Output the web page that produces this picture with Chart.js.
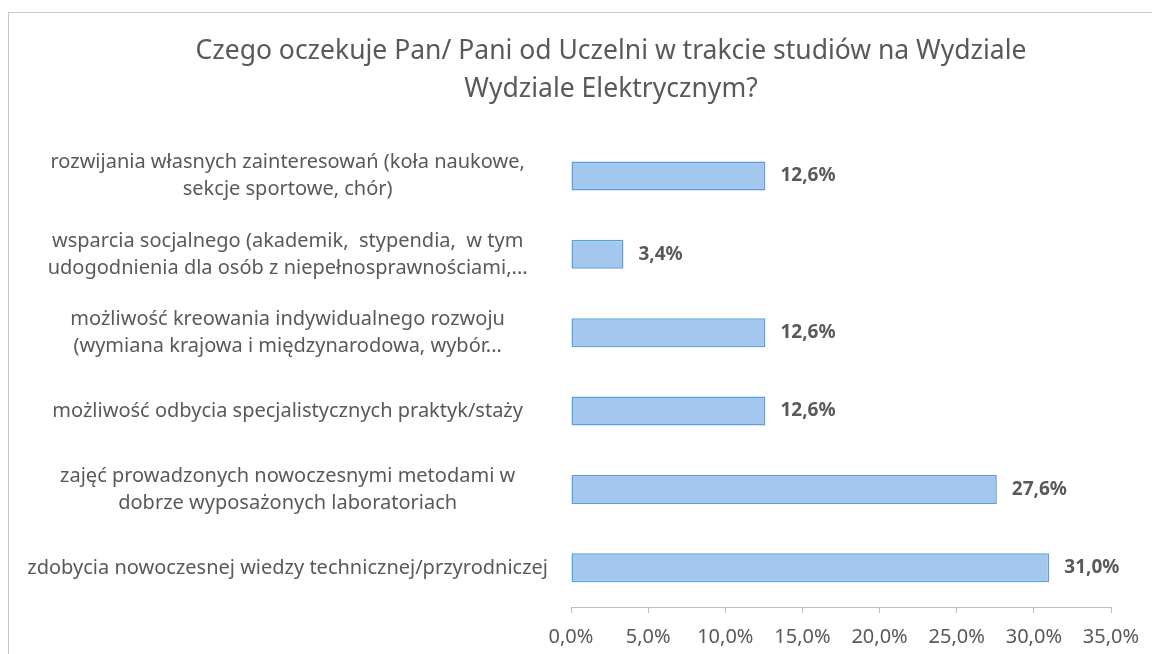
<!DOCTYPE html>
<html>
<head>
<meta charset="utf-8">
<script src="https://cdn.jsdelivr.net/npm/chart.js@4/dist/chart.umd.min.js"></script>
<style>
  html, body { margin: 0; padding: 0; background: #fff; overflow: hidden; }
  body { width: 1152px; height: 654px; position: relative; }
  #frame { position: absolute; left: 8px; top: 12px; width: 1200px; height: 700px;
           border-top: 1px solid #c9c9c9; border-left: 1px solid #c9c9c9; }
  #wrap { position: absolute; left: 0; top: 0; width: 1152px; height: 654px; }
</style>
</head>
<body>
<div id="frame"></div>
<div id="wrap"><canvas id="chart"></canvas></div>
<script>
const titleLines = [
  "Czego oczekuje Pan/ Pani od Uczelni w trakcie studiów na Wydziale",
  "Wydziale Elektrycznym?"
];

const categories = [
  ["rozwijania własnych zainteresowań (koła naukowe,", "sekcje sportowe, chór)"],
  ["wsparcia socjalnego (akademik,  stypendia,  w tym", "udogodnienia dla osób z niepełnosprawnościami,..."],
  ["możliwość kreowania indywidualnego rozwoju", "(wymiana krajowa i międzynarodowa, wybór..."],
  "możliwość odbycia specjalistycznych praktyk/staży",
  ["zajęć prowadzonych nowoczesnymi metodami w", "dobrze wyposażonych laboratoriach"],
  "zdobycia nowoczesnej wiedzy technicznej/przyrodniczej"
];

const percentValues = [12.6, 3.4, 12.6, 12.6, 27.6, 31.0];

const axisMin = 0;
const axisMax = 35;
const axisStep = 5;

const textColor = "#595959";
const fontFamily = "'Noto Sans', 'Open Sans', sans-serif";

function formatPct(v) {
  return Number(v).toFixed(1).replace(".", ",") + "%";
}

// value labels at the end of each bar
const valueLabels = {
  id: "valueLabels",
  afterDatasetsDraw(chart) {
    const ctx = chart.ctx;
    const meta = chart.getDatasetMeta(0);
    ctx.save();
    ctx.font = "bold 19px " + fontFamily;
    ctx.fillStyle = textColor;
    ctx.textAlign = "left";
    ctx.textBaseline = "middle";
    meta.data.forEach((bar, i) => {
      ctx.fillText(formatPct(percentValues[i]), bar.x + 15, bar.y);
    });
    ctx.restore();
  }
};

// the title in the original sits a bit right of the page centre
const titleShift = {
  id: "titleShift",
  afterLayout(chart) {
    const t = chart.titleBlock;
    if (t) {
      t.left = 111;
      t.width = t.right - t.left;
    }
  }
};

const ctx = document.getElementById("chart").getContext("2d");

new Chart(ctx, {
  type: "bar",
  data: {
    labels: categories,
    datasets: [{
      data: percentValues,
      backgroundColor: "#a3c7ee",
      borderColor: "#5b9fdc",
      borderWidth: 1.5,
      borderSkipped: false,
      categoryPercentage: 1,
      barPercentage: 0.37
    }]
  },
  options: {
    indexAxis: "y",
    responsive: true,
    maintainAspectRatio: false,
    animation: false,
    layout: {
      padding: { top: 33, right: 41, bottom: -7, left: 0 }
    },
    plugins: {
      legend: { display: false },
      tooltip: { enabled: false },
      title: {
        display: true,
        text: titleLines,
        color: textColor,
        font: { family: fontFamily, size: 26.5, weight: "normal", lineHeight: 1.43 },
        padding: { top: 0, bottom: 28 }
      }
    },
    scales: {
      x: {
        min: axisMin,
        max: axisMax,
        grid: {
          drawOnChartArea: false,
          drawTicks: true,
          tickLength: 6,
          color: "#bdbdbd"
        },
        border: { display: true, color: "#bdbdbd" },
        afterFit(scale) {
          scale.paddingLeft = 0;
          scale.paddingRight = 0;
        },
        ticks: {
          stepSize: axisStep,
          color: textColor,
          padding: 12,
          font: { family: fontFamily, size: 20, lineHeight: 1.2 },
          callback: v => formatPct(v)
        }
      },
      y: {
        grid: { display: false },
        border: { display: false },
        afterFit(scale) {
          scale.width = 571;
          scale.paddingTop = 0;
          scale.paddingBottom = 0;
        },
        ticks: {
          crossAlign: "center",
          padding: 15,
          color: textColor,
          font: { family: fontFamily, size: 20, lineHeight: 1.35 }
        }
      }
    }
  },
  plugins: [valueLabels, titleShift]
});
</script>
</body>
</html>
